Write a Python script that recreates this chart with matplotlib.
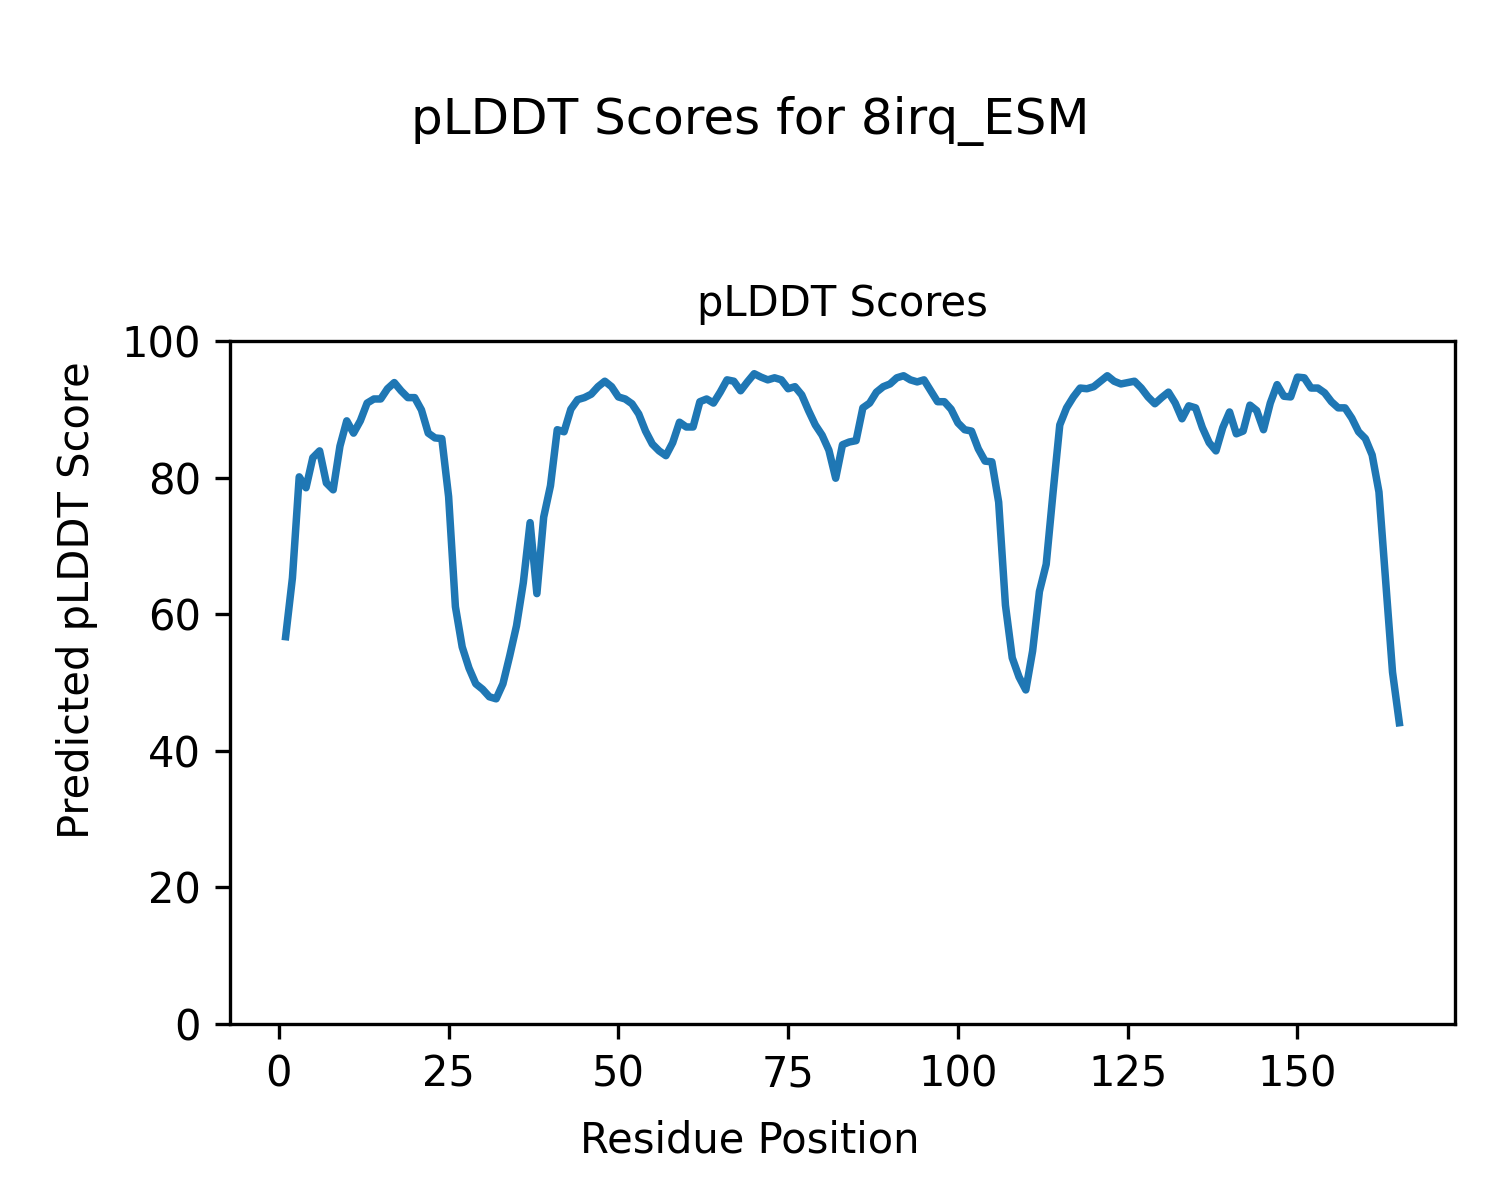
import numpy as np
import matplotlib
matplotlib.use("Agg")
import matplotlib.pyplot as plt

# pLDDT per residue
plddt = [
    56.7, 65.3, 80.1, 78.5, 82.9, 83.9, 79.2, 78.2, 84.6, 88.3,
    86.5, 88.3, 90.9, 91.5, 91.5, 93.0, 93.9, 92.7, 91.7, 91.7,
    89.9, 86.5, 85.8, 85.7, 77.2, 61.1, 55.2, 52.1, 49.8, 49.0,
    47.9, 47.6, 49.8, 53.9, 58.3, 64.6, 73.4, 63.0, 74.2, 78.8,
    87.0, 86.7, 90.0, 91.4, 91.7, 92.2, 93.3, 94.1, 93.3, 91.8,
    91.5, 90.8, 89.3, 86.8, 84.9, 83.9, 83.2, 85.1, 88.1, 87.4,
    87.4, 91.1, 91.5, 90.9, 92.5, 94.3, 94.1, 92.7, 94.0, 95.2,
    94.7, 94.3, 94.6, 94.3, 93.0, 93.3, 92.1, 89.8, 87.7, 86.2,
    84.0, 79.9, 84.8, 85.2, 85.4, 90.2, 90.9, 92.5, 93.3, 93.7,
    94.6, 94.9, 94.3, 94.0, 94.3, 92.7, 91.1, 91.1, 90.0, 88.0,
    87.0, 86.8, 84.2, 82.4, 82.3, 76.4, 61.3, 53.6, 50.8, 48.9,
    54.6, 63.3, 67.3, 77.7, 87.7, 90.2, 91.8, 93.1, 93.0, 93.3,
    94.1, 94.9, 94.1, 93.7, 93.9, 94.1, 93.1, 91.8, 90.8, 91.7,
    92.5, 90.9, 88.6, 90.5, 90.2, 87.3, 85.1, 83.9, 87.3, 89.6,
    86.4, 86.8, 90.6, 89.8, 87.0, 90.9, 93.6, 91.9, 91.8, 94.7,
    94.6, 93.1, 93.1, 92.4, 91.1, 90.2, 90.2, 88.7, 86.7, 85.7,
    83.3, 77.9, 64.7, 51.5, 44.1,
]
residues = np.arange(1, len(plddt) + 1)

fig = plt.figure(figsize=(5, 4), dpi=300)
fig.suptitle('pLDDT Scores for 8irq_ESM', y=0.92)
ax = fig.add_axes([0.1533, 0.1467, 0.8167, 0.5692])
ax.plot(residues, plddt, lw=1.8)
ax.set_title('pLDDT Scores', fontsize=10)
ax.set_ylim(0, 100)

# axis labels are centred on the figure, not the axes
fig.supxlabel('Residue Position', y=0.032, va='bottom', fontsize=10)
fig.supylabel('Predicted pLDDT Score', x=0.037, ha='left', fontsize=10)

fig.savefig('out.png', dpi=300)
